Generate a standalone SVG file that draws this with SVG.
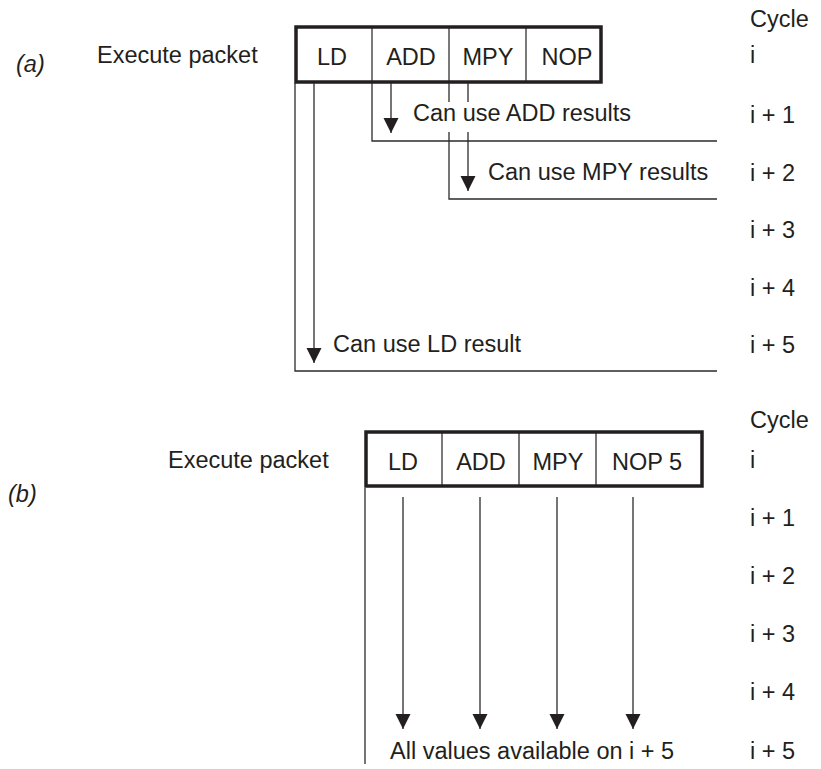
<svg xmlns="http://www.w3.org/2000/svg" width="821" height="769" viewBox="0 0 821 769">
<style>
text{font-family:"Liberation Sans",Arial,Helvetica,sans-serif;font-size:23.5px;fill:#231f20}
.it{font-style:italic}
.c{text-anchor:middle}
.box{fill:#fff;stroke:#231f20;stroke-width:3.5}
.div{stroke:#231f20;stroke-width:1.2;fill:none}
.ln{stroke:#2b2b2b;stroke-width:1.3;fill:none}
.ar{stroke:#2b2b2b;stroke-width:1.3;fill:none;marker-end:url(#ah)}
</style>
<defs>
<marker id="ah" viewBox="0 -8 15 16" refX="15" refY="0" markerWidth="15" markerHeight="16" markerUnits="userSpaceOnUse" orient="auto">
<path d="M0,-7.5 L15,0 L0,7.5 z" fill="#231f20"/>
</marker>
</defs>
<rect width="821" height="769" fill="#fff"/>

<g id="labels-a">
<text x="16" y="72" class="it">(a)</text>
<text x="97" y="63">Execute packet</text>
<text x="750" y="27">Cycle</text>
<text x="750" y="63">i</text>
<text x="750" y="123">i + 1</text>
<text x="750" y="181">i + 2</text>
<text x="750" y="238">i + 3</text>
<text x="750" y="296">i + 4</text>
<text x="750" y="353">i + 5</text>
</g>

<g id="packet-a">
<rect class="box" x="296" y="27" width="305" height="55"/>
<line class="div" x1="372" y1="27" x2="372" y2="82"/>
<line class="div" x1="449" y1="27" x2="449" y2="82"/>
<line class="div" x1="526" y1="27" x2="526" y2="82"/>
<text x="332" y="65" class="c">LD</text>
<text x="411" y="65" class="c">ADD</text>
<text x="488" y="65" class="c">MPY</text>
<text x="567" y="65" class="c">NOP</text>
</g>

<g id="connectors-a">
<polyline class="ln" points="295,83 295,371 717,371"/>
<polyline class="ln" points="372,83 372,141 717,141"/>
<line class="ln" x1="449" y1="83" x2="449" y2="102"/>
<polyline class="ln" points="449,132 449,199 717,199"/>
<line class="ar" x1="314" y1="83" x2="314" y2="363"/>
<line class="ar" x1="391" y1="83" x2="391" y2="133"/>
<line class="ln" x1="468" y1="83" x2="468" y2="102"/>
<line class="ar" x1="468" y1="132" x2="468" y2="191"/>
</g>

<g id="notes-a">
<text x="413" y="121">Can use ADD results</text>
<text x="488" y="180">Can use MPY results</text>
<text x="333" y="352">Can use LD result</text>
</g>

<g id="labels-b">
<text x="8" y="502" class="it">(b)</text>
<text x="168" y="468">Execute packet</text>
<text x="750" y="428">Cycle</text>
<text x="750" y="468">i</text>
<text x="750" y="526">i + 1</text>
<text x="750" y="584">i + 2</text>
<text x="750" y="642">i + 3</text>
<text x="750" y="700">i + 4</text>
<text x="750" y="759">i + 5</text>
</g>

<g id="packet-b">
<rect class="box" x="366" y="432" width="336" height="54"/>
<line class="div" x1="442" y1="432" x2="442" y2="486"/>
<line class="div" x1="519" y1="432" x2="519" y2="486"/>
<line class="div" x1="596" y1="432" x2="596" y2="486"/>
<text x="403" y="470" class="c">LD</text>
<text x="481" y="470" class="c">ADD</text>
<text x="558" y="470" class="c">MPY</text>
<text x="647" y="470" class="c">NOP 5</text>
</g>

<g id="connectors-b">
<line class="ln" x1="365" y1="488" x2="365" y2="764"/>
<line class="ar" x1="403" y1="497" x2="403" y2="729"/>
<line class="ar" x1="480" y1="497" x2="480" y2="729"/>
<line class="ar" x1="557" y1="497" x2="557" y2="729"/>
<line class="ar" x1="633" y1="497" x2="633" y2="729"/>
</g>

<g id="notes-b">
<text x="390" y="759">All values available on i + 5</text>
</g>
</svg>
